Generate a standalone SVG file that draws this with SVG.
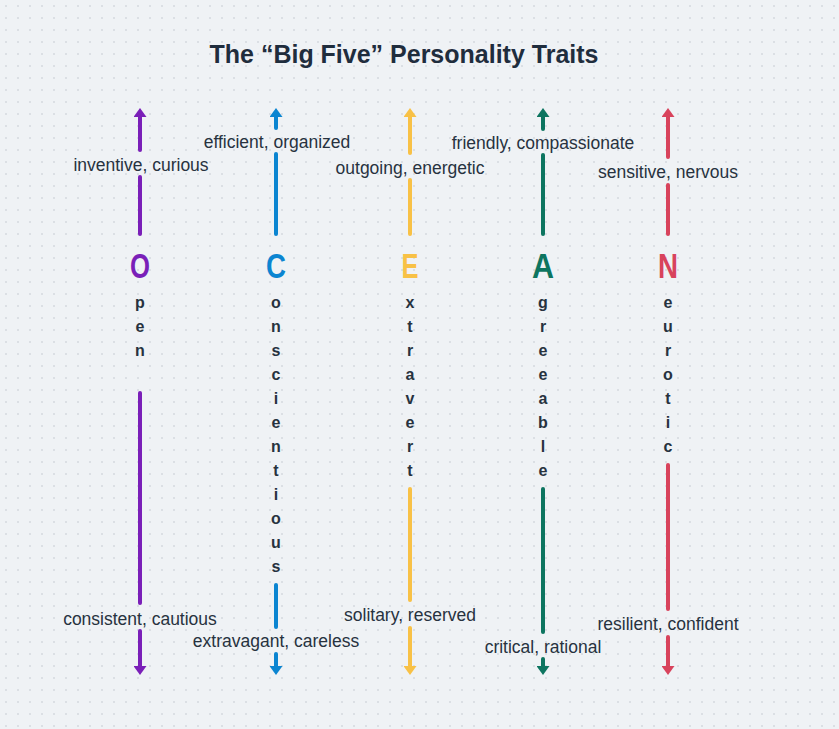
<svg xmlns="http://www.w3.org/2000/svg" width="839" height="729" viewBox="0 0 839 729">
<defs>
<pattern id="dots" x="0" y="0" width="12" height="12" patternUnits="userSpaceOnUse">
<rect x="5.3" y="5.3" width="1.4" height="1.4" fill="#c6cbd2"/>
</pattern>
<marker id="hO" viewBox="0 0 9 13" refX="0" refY="6.5" markerWidth="9" markerHeight="13" markerUnits="userSpaceOnUse" orient="auto"><path d="M0,0 L9,6.5 L0,13 Z" fill="#7a1fb8"/></marker>
<marker id="hC" viewBox="0 0 9 13" refX="0" refY="6.5" markerWidth="9" markerHeight="13" markerUnits="userSpaceOnUse" orient="auto"><path d="M0,0 L9,6.5 L0,13 Z" fill="#0b85d1"/></marker>
<marker id="hE" viewBox="0 0 9 13" refX="0" refY="6.5" markerWidth="9" markerHeight="13" markerUnits="userSpaceOnUse" orient="auto"><path d="M0,0 L9,6.5 L0,13 Z" fill="#f8c146"/></marker>
<marker id="hA" viewBox="0 0 9 13" refX="0" refY="6.5" markerWidth="9" markerHeight="13" markerUnits="userSpaceOnUse" orient="auto"><path d="M0,0 L9,6.5 L0,13 Z" fill="#0d7560"/></marker>
<marker id="hN" viewBox="0 0 9 13" refX="0" refY="6.5" markerWidth="9" markerHeight="13" markerUnits="userSpaceOnUse" orient="auto"><path d="M0,0 L9,6.5 L0,13 Z" fill="#d8435c"/></marker>
</defs>
<style>
.title{font-family:"Liberation Sans",Arial,sans-serif;font-weight:bold;font-size:25px;fill:#1f2d3d;text-anchor:middle}
.lbl{font-family:"Liberation Sans",Arial,sans-serif;font-size:17.5px;fill:#27323f;text-anchor:middle}
.big{font-family:"Liberation Sans",Arial,sans-serif;font-weight:bold;font-size:35px;text-anchor:middle}
.sp{font-family:"Liberation Sans",Arial,sans-serif;font-weight:bold;font-size:16px;fill:#27323f;text-anchor:middle}
.ln{fill:none;stroke-width:4;stroke-linecap:round}
.o{stroke:#7a1fb8}.c{stroke:#0b85d1}.e{stroke:#f8c146}.a{stroke:#0d7560}.n{stroke:#d8435c}
</style>
<rect width="839" height="729" fill="#eff2f5"/>
<rect width="839" height="729" fill="url(#dots)"/>

<text class="title" x="404" y="63">The “Big Five” Personality Traits</text>

<g id="connectors">
<path class="ln o" d="M140 150 V117" marker-end="url(#hO)"/>
<path class="ln o" d="M140 177 V234"/>
<path class="ln o" d="M140 393 V603"/>
<path class="ln o" d="M140 631 V666" marker-end="url(#hO)"/>

<path class="ln c" d="M276 128 V117" marker-end="url(#hC)"/>
<path class="ln c" d="M276 154 V234"/>
<path class="ln c" d="M276 585 V627"/>
<path class="ln c" d="M276 654 V666" marker-end="url(#hC)"/>

<path class="ln e" d="M410 153 V117" marker-end="url(#hE)"/>
<path class="ln e" d="M410 180 V234"/>
<path class="ln e" d="M410 489 V600"/>
<path class="ln e" d="M410 628 V666" marker-end="url(#hE)"/>

<path class="ln a" d="M543 129 V117" marker-end="url(#hA)"/>
<path class="ln a" d="M543 155 V234"/>
<path class="ln a" d="M543 489 V632"/>
<path class="ln a" d="M543 659 V666" marker-end="url(#hA)"/>

<path class="ln n" d="M668 157 V117" marker-end="url(#hN)"/>
<path class="ln n" d="M668 185 V234"/>
<path class="ln n" d="M668 465 V609"/>
<path class="ln n" d="M668 637 V666" marker-end="url(#hN)"/>
</g>

<g id="trait-O">
<text class="big" x="140" y="278" fill="#7a1fb8" textLength="20" lengthAdjust="spacingAndGlyphs">O</text>
<text class="sp" x="140"><tspan x="140" y="308">p</tspan><tspan x="140" y="332">e</tspan><tspan x="140" y="356">n</tspan></text>
<text class="lbl" x="141" y="171">inventive, curious</text>
<text class="lbl" x="140" y="625">consistent, cautious</text>
</g>

<g id="trait-C">
<text class="big" x="276" y="278" fill="#0b85d1" textLength="20" lengthAdjust="spacingAndGlyphs">C</text>
<text class="sp"><tspan x="276" y="308">o</tspan><tspan x="276" y="332">n</tspan><tspan x="276" y="356">s</tspan><tspan x="276" y="380">c</tspan><tspan x="276" y="404">i</tspan><tspan x="276" y="428">e</tspan><tspan x="276" y="452">n</tspan><tspan x="276" y="476">t</tspan><tspan x="276" y="500">i</tspan><tspan x="276" y="524">o</tspan><tspan x="276" y="548">u</tspan><tspan x="276" y="572">s</tspan></text>
<text class="lbl" x="277" y="148">efficient, organized</text>
<text class="lbl" x="276" y="647">extravagant, careless</text>
</g>

<g id="trait-E">
<text class="big" x="410" y="278" fill="#f8c146" textLength="17" lengthAdjust="spacingAndGlyphs">E</text>
<text class="sp"><tspan x="410" y="308">x</tspan><tspan x="410" y="332">t</tspan><tspan x="410" y="356">r</tspan><tspan x="410" y="380">a</tspan><tspan x="410" y="404">v</tspan><tspan x="410" y="428">e</tspan><tspan x="410" y="452">r</tspan><tspan x="410" y="476">t</tspan></text>
<text class="lbl" x="410" y="174">outgoing, energetic</text>
<text class="lbl" x="410" y="621">solitary, reserved</text>
</g>

<g id="trait-A">
<text class="big" x="543" y="278" fill="#0d7560" textLength="22" lengthAdjust="spacingAndGlyphs">A</text>
<text class="sp"><tspan x="543" y="308">g</tspan><tspan x="543" y="332">r</tspan><tspan x="543" y="356">e</tspan><tspan x="543" y="380">e</tspan><tspan x="543" y="404">a</tspan><tspan x="543" y="428">b</tspan><tspan x="543" y="452">l</tspan><tspan x="543" y="476">e</tspan></text>
<text class="lbl" x="543" y="149">friendly, compassionate</text>
<text class="lbl" x="543" y="653">critical, rational</text>
</g>

<g id="trait-N">
<text class="big" x="668" y="278" fill="#d8435c" textLength="20" lengthAdjust="spacingAndGlyphs">N</text>
<text class="sp"><tspan x="668" y="308">e</tspan><tspan x="668" y="332">u</tspan><tspan x="668" y="356">r</tspan><tspan x="668" y="380">o</tspan><tspan x="668" y="404">t</tspan><tspan x="668" y="428">i</tspan><tspan x="668" y="452">c</tspan></text>
<text class="lbl" x="668" y="178">sensitive, nervous</text>
<text class="lbl" x="668" y="630">resilient, confident</text>
</g>
</svg>
